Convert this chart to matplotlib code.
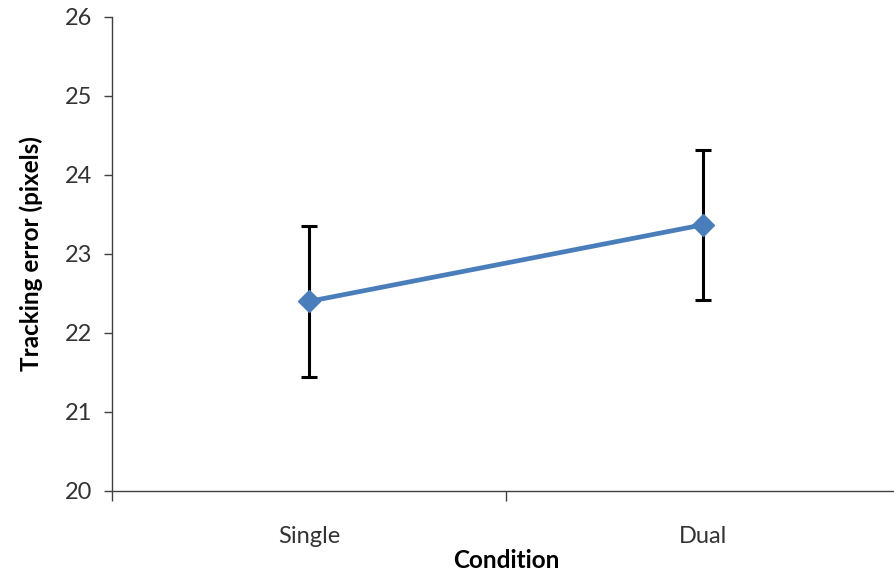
import matplotlib
matplotlib.use("Agg")
from matplotlib import pyplot as plt

conditions = ["Single", "Dual"]
mean_error = [22.40, 23.37]
error_sd = [0.96, 0.95]

plt.rcParams['font.family'] = ['Lato', 'DejaVu Sans']

fig = plt.figure(figsize=(8.94, 5.73), dpi=100)
ax = fig.add_axes([112 / 894, 1 - 491 / 573, 788 / 894, 474 / 573])

x = [0.5, 1.5]
ax.errorbar(x, mean_error, yerr=error_sd, fmt='none', ecolor='black',
            elinewidth=2.2, capsize=6, capthick=2.2, zorder=2)
ax.plot(x, mean_error, color='#4a7ebb', linewidth=3.4, marker='D',
        markersize=11, zorder=3)

ax.set_xlim(0, 2)
ax.set_ylim(20, 26)
ax.set_yticks(range(20, 27))
ax.set_xticks([0, 1, 2])
ax.set_xticklabels([])
ax.set_xticks(x, minor=True)
ax.set_xticklabels(conditions, minor=True)

for side in ['top', 'right']:
    ax.spines[side].set_visible(False)
for side in ['left', 'bottom']:
    ax.spines[side].set_color('#404040')
    ax.spines[side].set_linewidth(1.0)

ax.tick_params(axis='y', which='major', direction='out', length=6,
               width=1.0, color='#404040', labelsize=17, pad=8,
               labelcolor='#333333')
ax.tick_params(axis='x', which='major', direction='out', length=7,
               width=1.0, color='#404040')
ax.tick_params(axis='x', which='minor', length=0, labelsize=17, pad=25,
               labelcolor='#333333')

ax.set_ylabel("Tracking error (pixels)", fontsize=17.5, fontweight='bold',
              labelpad=16)
ax.set_xlabel("Condition", fontsize=17.5, fontweight='bold', labelpad=2)

fig.savefig("out.png", dpi=100)
